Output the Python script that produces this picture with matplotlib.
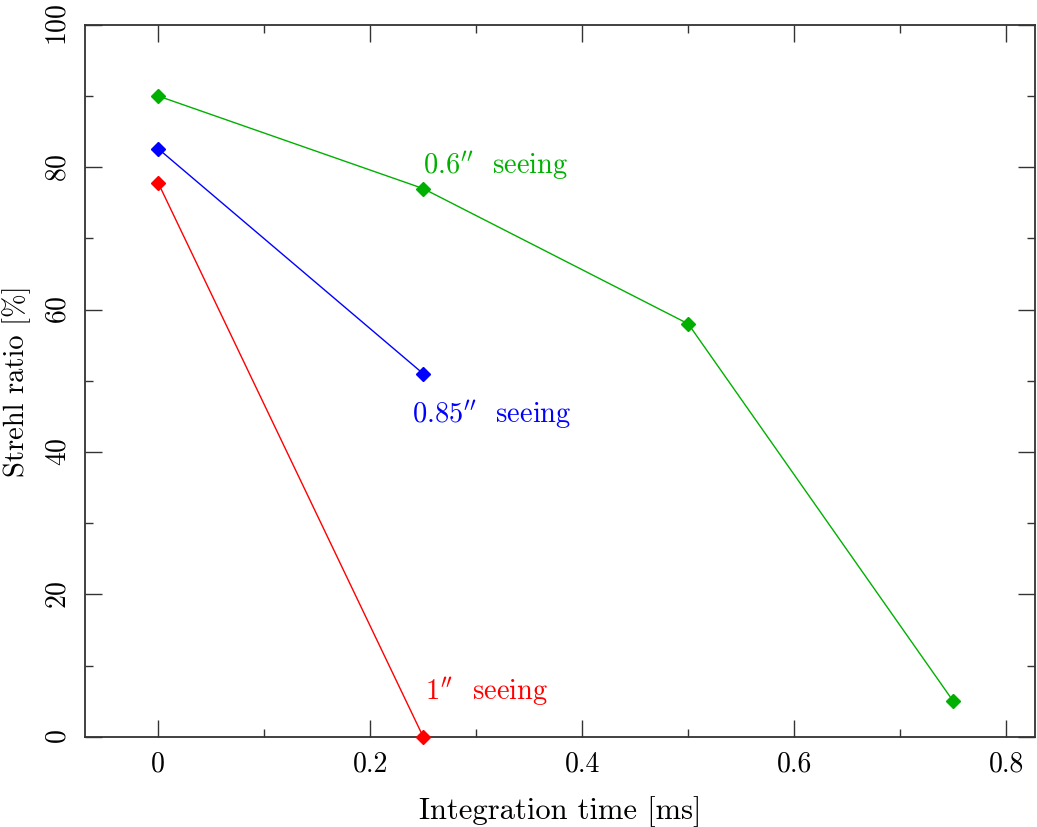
import matplotlib
matplotlib.use("Agg")
import matplotlib.pyplot as plt
from matplotlib.ticker import MultipleLocator

plt.rcParams.update({
    "font.family": "cmr10",
    "mathtext.fontset": "cm",
    "axes.formatter.use_mathtext": True,
    "font.size": 20,
})

# integration time [ms] vs Strehl ratio [%] for three seeing conditions
t_06 = [0.0, 0.25, 0.5, 0.75]
s_06 = [90, 77, 58, 5]
t_085 = [0.0, 0.25]
s_085 = [82.6, 51]
t_1 = [0.0, 0.25]
s_1 = [77.8, 0]

series = [
    (t_06, s_06, "#00b000", r"0.6$''$  seeing", (0.25, 80.2)),
    (t_085, s_085, "#0000ff", r"0.85$''$  seeing", (0.239, 45.2)),
    (t_1, s_1, "#ff0000", r"1$''$  seeing", (0.252, 6.3)),
]

fig = plt.figure(figsize=(10.37, 8.27), dpi=100)
ax = fig.add_axes([0.082, 0.109, 0.916, 0.861])

for t, s, col, lab, pos in series:
    ax.plot(t, s, color=col, lw=1.0, marker="D", ms=7, mec=col, mfc=col,
            clip_on=False, zorder=3)
    ax.text(pos[0], pos[1], lab, color=col, ha="left", va="center", fontsize=20.5)

ax.set_xlim(-0.069, 0.827)
ax.set_ylim(0, 100)
ax.xaxis.set_major_locator(MultipleLocator(0.2))
ax.xaxis.set_minor_locator(MultipleLocator(0.1))
ax.yaxis.set_major_locator(MultipleLocator(20))
ax.yaxis.set_minor_locator(MultipleLocator(10))
ax.xaxis.set_major_formatter(plt.FuncFormatter(lambda v, p: "0" if abs(v) < 1e-9 else f"{v:g}"))

ax.tick_params(which="both", direction="in", top=True, right=True,
               color="#333333", width=1.0, labelsize=20)
ax.tick_params(which="major", length=12, pad=10)
ax.tick_params(which="minor", length=6)
for lbl in ax.get_yticklabels():
    lbl.set_rotation(90)
    lbl.set_va("center")
for sp in ax.spines.values():
    sp.set_linewidth(1.3)
    sp.set_color("#333333")

ax.set_xlabel("Integration time [ms]", fontsize=22, labelpad=14)
ax.set_ylabel("Strehl ratio [%]", fontsize=20.5, labelpad=10)

fig.savefig("out.png", dpi=100)
